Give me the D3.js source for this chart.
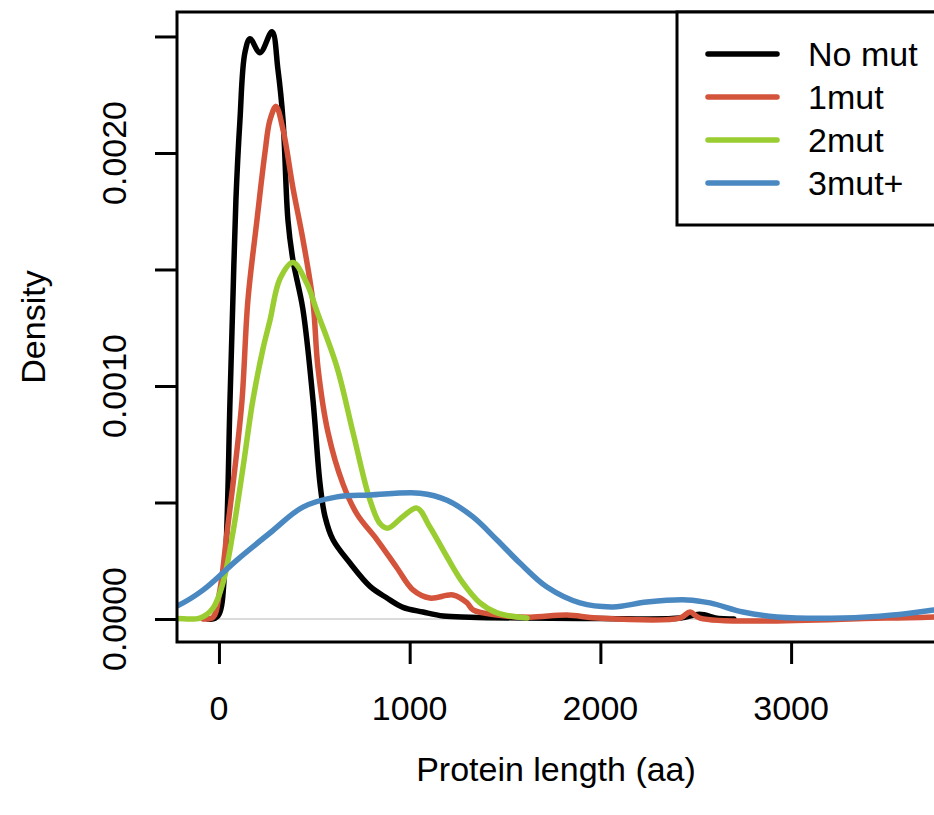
<!DOCTYPE html>
<html>
<head>
<meta charset="utf-8">
<script src="https://cdn.jsdelivr.net/npm/d3@7"></script>
<style>
  body { margin: 0; background: #fff; }
  svg text { font-family: "Liberation Sans", Arial, sans-serif; fill: #000; }
</style>
</head>
<body>
<div id="chart"></div>
<script>
// density curves: [protein length, density]
const noMut = [[-60, 0], [-31, 0], [0, 0.00002], [31, 0.00022], [58, 0.00094], [73, 0.00137], [89, 0.0018],
  [110, 0.00214], [136, 0.00243], [163, 0.00249], [215, 0.00243], [278, 0.00252], [309, 0.00236],
  [336, 0.00214], [362, 0.00171], [388, 0.00154], [440, 0.00133], [493, 0.00094], [530, 0.00058],
  [556, 0.00044], [598, 0.00034], [687, 0.00024], [792, 0.00014], [881, 0.00009], [965, 0.00005],
  [1070, 0.00003], [1175, 0.000013], [1316, 0.000008], [1600, 0.000004], [2000, 0.000002],
  [2420, 0.000004], [2520, 0.00002], [2620, 0.000002], [2700, 0]];
const oneMut = [[-84, 0], [-31, 0.000008], [5, 0.000124], [42, 0.00037], [84, 0.00065], [121, 0.00094],
  [152, 0.00137], [199, 0.00171], [241, 0.002], [267, 0.00214], [299, 0.0022], [336, 0.0021],
  [388, 0.00185], [440, 0.00163], [493, 0.00136], [519, 0.00108], [572, 0.0008], [650, 0.00058],
  [724, 0.00045], [829, 0.00034], [933, 0.00022], [1017, 0.000125], [1106, 0.00009], [1227, 0.000103],
  [1300, 0.00007], [1332, 0.000039], [1458, 0.000017], [1631, 0.000008], [1825, 0.000017],
  [1982, 0.000004], [2417, 0.000004], [2470, 0.00003], [2522, 0.000004], [3500, 0.000004], [3800, 0.00001]];
const twoMut = [[-260, 0.000001], [-220, 0.000002], [-100, 0.000004], [-31, 0.000047], [21, 0.000155],
  [73, 0.00037], [126, 0.00065], [178, 0.00094], [231, 0.00116], [267, 0.00128], [320, 0.00146],
  [388, 0.00153], [461, 0.00144], [514, 0.00132], [619, 0.00108], [703, 0.0008], [792, 0.00051],
  [844, 0.00041], [886, 0.00039], [965, 0.00044], [1038, 0.000476], [1106, 0.000395], [1196, 0.000266],
  [1279, 0.000155], [1369, 0.000069], [1458, 0.000026], [1615, 0.000004]];
const threeMut = [[-260, 0.000045], [-220, 0.000056], [-84, 0.000124], [94, 0.000253], [267, 0.000369],
  [440, 0.00048], [619, 0.000524], [792, 0.000532], [1054, 0.00054], [1196, 0.00051], [1332, 0.000438],
  [1458, 0.000339], [1578, 0.00024], [1720, 0.000137], [1893, 0.000069], [2066, 0.000052],
  [2244, 0.000073], [2454, 0.000082], [2575, 0.000069], [2748, 0.00003], [2926, 0.000009],
  [3272, 0.000004], [3534, 0.000017], [3749, 0.000039], [3800, 0.000045]];

const seriesNames = ["No mut", "1mut", "2mut", "3mut+"];
const seriesColors = ["#000000", "#d4533b", "#9acd32", "#4a88c2"];
const seriesData = [noMut, oneMut, twoMut, threeMut];

const xTicks = [0, 1000, 2000, 3000];
const yTicks = [0, 0.0005, 0.001, 0.0015, 0.002, 0.0025];
const yTickLabels = {0: "0.0000", 0.001: "0.0010", 0.002: "0.0020"};

const width = 934, height = 815;
const box = {left: 177, top: 12, right: 937, bottom: 642};

const svg = d3.select("#chart").append("svg")
  .attr("width", width)
  .attr("height", height);

const x = d3.scaleLinear().domain([-220, 3765]).range([box.left, box.right]);
const y = d3.scaleLinear().domain([-0.0000987, 0.002605]).range([box.bottom, box.top]);

svg.append("clipPath").attr("id", "plotClip")
  .append("rect")
  .attr("x", box.left).attr("y", box.top)
  .attr("width", box.right - box.left).attr("height", box.bottom - box.top);

// zero line
svg.append("line")
  .attr("x1", box.left).attr("x2", box.right)
  .attr("y1", y(0)).attr("y2", y(0))
  .attr("stroke", "#cfcfcf").attr("stroke-width", 1.5);

const line = d3.line()
  .x(d => x(d[0]))
  .y(d => y(d[1]))
  .curve(d3.curveCatmullRom.alpha(0.5));

svg.append("g").attr("clip-path", "url(#plotClip)")
  .selectAll("path")
  .data(seriesData)
  .join("path")
  .attr("d", line)
  .attr("fill", "none")
  .attr("stroke", (d, i) => seriesColors[i])
  .attr("stroke-width", 5.5)
  .attr("stroke-linejoin", "round")
  .attr("stroke-linecap", "round");

// axes
const xAxis = d3.axisBottom(x).tickValues(xTicks).tickSize(22).tickFormat("");
const yAxis = d3.axisLeft(y).tickValues(yTicks).tickSize(22).tickFormat("");

const gx = svg.append("g").attr("transform", "translate(0," + box.bottom + ")").call(xAxis);
const gy = svg.append("g").attr("transform", "translate(" + box.left + ",0)").call(yAxis);
[gx, gy].forEach(g => {
  g.select(".domain").remove();
  g.selectAll(".tick line").attr("stroke", "#000").attr("stroke-width", 3);
});

svg.selectAll(".xlab")
  .data(xTicks)
  .join("text")
  .attr("class", "xlab")
  .attr("x", d => x(d))
  .attr("y", 720)
  .attr("text-anchor", "middle")
  .attr("font-size", 34)
  .text(d => d);

svg.selectAll(".ylab")
  .data(yTicks.filter(d => yTickLabels[d] !== undefined))
  .join("text")
  .attr("class", "ylab")
  .attr("transform", d => "translate(126," + y(d) + ") rotate(-90)")
  .attr("text-anchor", "middle")
  .attr("font-size", 34)
  .text(d => yTickLabels[d]);

svg.append("text")
  .attr("x", (box.left + box.right) / 2 - 1)
  .attr("y", 781)
  .attr("text-anchor", "middle")
  .attr("font-size", 34)
  .text("Protein length (aa)");

svg.append("text")
  .attr("transform", "translate(45," + ((box.top + box.bottom) / 2) + ") rotate(-90)")
  .attr("text-anchor", "middle")
  .attr("font-size", 34)
  .text("Density");

// plot box
svg.append("rect")
  .attr("x", box.left).attr("y", box.top)
  .attr("width", box.right - box.left).attr("height", box.bottom - box.top)
  .attr("fill", "none").attr("stroke", "#000").attr("stroke-width", 3);

// legend
const legend = svg.append("g");
legend.append("rect")
  .attr("x", 677).attr("y", box.top)
  .attr("width", 270).attr("height", 225 - box.top)
  .attr("fill", "#fff").attr("stroke", "#000").attr("stroke-width", 3);

const rows = legend.selectAll(".row")
  .data(seriesNames)
  .join("g")
  .attr("class", "row")
  .attr("transform", (d, i) => "translate(0," + (54 + i * 43) + ")");

rows.append("line")
  .attr("x1", 708).attr("x2", 777)
  .attr("stroke", (d, i) => seriesColors[i])
  .attr("stroke-width", 5.5)
  .attr("stroke-linecap", "round");

rows.append("text")
  .attr("x", 808)
  .attr("y", 12)
  .attr("font-size", 34)
  .text(d => d);
</script>
</body>
</html>
